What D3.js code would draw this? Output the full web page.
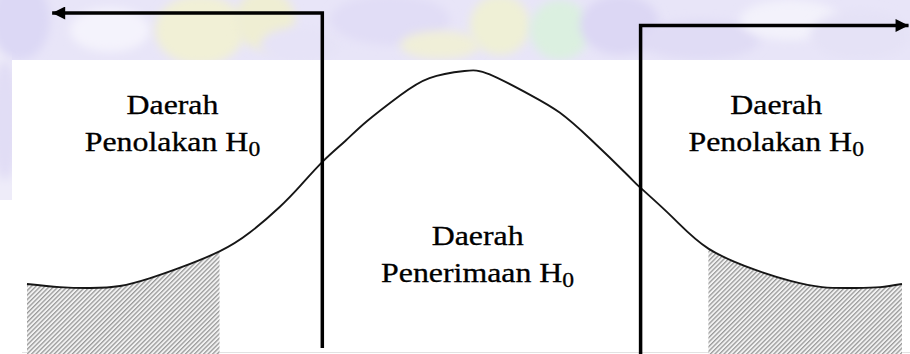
<!DOCTYPE html>
<html>
<head>
<meta charset="utf-8">
<script src="https://cdn.jsdelivr.net/npm/d3@7/dist/d3.min.js"></script>
<style>
  html, body { margin: 0; padding: 0; background: #ffffff; }
  svg { display: block; }
</style>
</head>
<body>
<svg id="chart" width="910" height="354"></svg>
<script>
// Sampling of the bell-shaped density (standardised z units, relative height)
const zValues = [-4.00, -3.70, -3.42, -3.15, -2.88, -2.60, -2.24, -1.96, -1.69, -1.50,
                 -1.29, -1.09, -0.89, -0.59, -0.32, 0.00, 0.23, 0.60, 0.87, 1.15,
                 1.49, 1.61, 1.90, 2.23, 2.66, 2.98, 3.27, 3.57, 3.80, 4.00];
const heights = [0.242, 0.231, 0.228, 0.235, 0.262, 0.300, 0.358, 0.426, 0.516, 0.592,
                 0.680, 0.751, 0.822, 0.913, 0.975, 1.000, 0.988, 0.915, 0.852, 0.758,
                 0.630, 0.584, 0.480, 0.368, 0.292, 0.253, 0.231, 0.228, 0.231, 0.242];

// Hatched tails
const leftTail = [-4.00, -2.24];
const rightTail = [2.23, 4.00];

// Critical boundaries and how far their arrows reach
const criticalValues = [-1.30, 1.61];
const arrowReach = [-3.77, 4.06];

// Region labels
const regionLabels = [
  { z: -2.67, lines: ["Daerah", "Penolakan H"] },
  { z: 0.12, lines: ["Daerah", "Penerimaan H"] },
  { z: 2.85, lines: ["Daerah", "Penolakan H"] }
];
const subscript = "0";

const W = 910, H = 354;
const FONT = "'Liberation Serif', 'Times New Roman', Tinos, Times, serif";
const svg = d3.select("#chart");

const x = d3.scaleLinear().domain([-4, 4]).range([27, 902]);
const y = d3.scaleLinear().domain([0, 1]).range([352, 71]);

const defs = svg.append("defs");

// Soft watermark blur
defs.append("filter").attr("id", "soft")
  .attr("x", "-50%").attr("y", "-50%").attr("width", "200%").attr("height", "200%")
  .append("feGaussianBlur").attr("stdDeviation", 5);

// Diagonal hatch
const pat = defs.append("pattern").attr("id", "hatch")
  .attr("patternUnits", "userSpaceOnUse").attr("width", 3.2).attr("height", 3.2)
  .attr("patternTransform", "rotate(45)");
pat.append("rect").attr("width", 3.2).attr("height", 3.2).attr("fill", "#f2f2f2");
pat.append("rect").attr("x", 0).attr("width", 1.3).attr("height", 3.2).attr("fill", "#9a9a9a");

// ---- faint emblem watermark behind the figure ----
const wm = svg.append("g");
wm.append("rect").attr("x", 0).attr("y", 0).attr("width", W).attr("height", 62).attr("fill", "#e8e5f8");
wm.append("rect").attr("x", 0).attr("y", 0).attr("width", 12).attr("height", 200).attr("fill", "#eeecf9");
const blobs = [
  [20, 20, 30, 40, "#dcd8f5"], [110, 30, 40, 22, "#f4f3fc"], [200, 30, 45, 35, "#f1f0d6"],
  [265, 20, 30, 30, "#efeed3"], [300, 45, 40, 18, "#e6e3f7"], [390, 20, 60, 25, "#e1ddf6"],
  [440, 45, 40, 14, "#f0efd8"], [500, 25, 30, 30, "#eff0d6"], [560, 30, 30, 30, "#dbf0e0"],
  [620, 25, 40, 30, "#dcd7f4"], [700, 40, 60, 20, "#e0dcf5"], [790, 20, 50, 20, "#f3f2fb"],
  [860, 35, 50, 25, "#e5e2f6"], [5, 120, 14, 60, "#e1ddf5"]
];
wm.selectAll("ellipse").data(blobs).join("ellipse")
  .attr("cx", d => d[0]).attr("cy", d => d[1]).attr("rx", d => d[2]).attr("ry", d => d[3])
  .attr("fill", d => d[4]).attr("filter", "url(#soft)");

// white sheet the figure sits on
svg.append("rect").attr("x", 12).attr("y", 60).attr("width", W - 12).attr("height", H - 60).attr("fill", "#ffffff");
svg.append("line").attr("x1", 22).attr("x2", W).attr("y1", 352.5).attr("y2", 352.5)
  .attr("stroke", "#e2e2e2").attr("stroke-width", 1);

const pts = zValues.map((z, i) => [z, heights[i]]);
const curve = d3.curveNatural;

// hatched tails, clipped to each tail interval
[leftTail, rightTail].forEach((tail, i) => {
  const id = "tailclip" + i;
  defs.append("clipPath").attr("id", id).append("rect")
    .attr("x", x(tail[0])).attr("y", 0)
    .attr("width", x(tail[1]) - x(tail[0])).attr("height", H);
  svg.append("path").datum(pts)
    .attr("clip-path", `url(#${id})`)
    .attr("fill", "url(#hatch)")
    .attr("d", d3.area().x(d => x(d[0])).y0(H).y1(d => y(d[1])).curve(curve));
});

// the curve
svg.append("path").datum(pts)
  .attr("fill", "none").attr("stroke", "#161616").attr("stroke-width", 1.9)
  .attr("d", d3.line().x(d => x(d[0])).y(d => y(d[1])).curve(curve));

// arrow heads
const mk = defs.append("marker").attr("id", "head")
  .attr("viewBox", "0 0 10 10").attr("refX", 10).attr("refY", 5)
  .attr("markerUnits", "userSpaceOnUse").attr("markerWidth", 15).attr("markerHeight", 13)
  .attr("orient", "auto");
mk.append("path").attr("d", "M0,0 L10,5 L0,10 Z").attr("fill", "#000");

// boundary lines with arrows pointing toward rejection regions
const arrowY = [13, 25.5];
const lineBottom = [348, H];
criticalValues.forEach((c, i) => {
  svg.append("path")
    .attr("fill", "none").attr("stroke", "#000").attr("stroke-width", 3.5)
    .attr("stroke-linejoin", "miter")
    .attr("marker-end", "url(#head)")
    .attr("d", `M${x(c)},${lineBottom[i]} L${x(c)},${arrowY[i]} L${x(arrowReach[i])},${arrowY[i]}`);
});

// labels
const baselines = [[114, 151], [245, 282], [114, 151]];
regionLabels.forEach((lab, i) => {
  lab.lines.forEach((t, j) => {
    const g = svg.append("g")
      .attr("transform", `translate(${x(lab.z)},${baselines[i][j]}) scale(1.18,1)`);
    const txt = g.append("text")
      .attr("text-anchor", "middle")
      .attr("font-family", FONT)
      .attr("font-size", 27)
      .attr("fill", "#000")
      .attr("stroke", "#000")
      .attr("stroke-width", 0.3);
    txt.append("tspan").text(t);
    if (j === 1) {
      txt.append("tspan").attr("font-size", 20).attr("dy", 5).text(subscript);
    }
  });
});
</script>
</body>
</html>
